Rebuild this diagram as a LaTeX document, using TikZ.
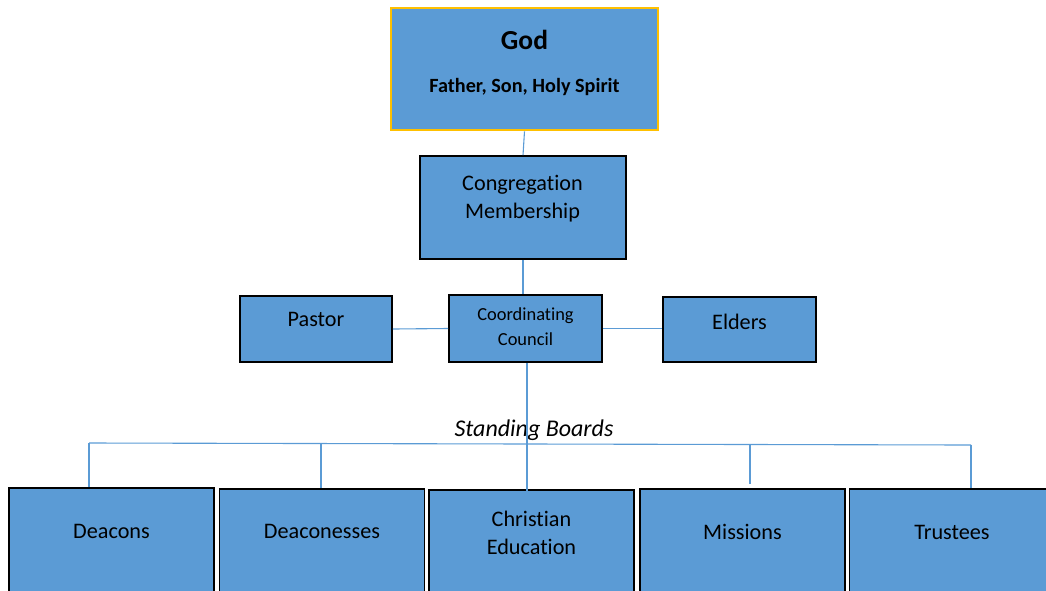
\documentclass[tikz,border=0pt]{standalone}
\usepackage{fontspec}
\setmainfont{Carlito}[Ligatures={NoCommon}]
\usetikzlibrary{positioning}
\definecolor{boxblue}{HTML}{5B9BD5}
\definecolor{godgold}{HTML}{FFC000}
\definecolor{linkblue}{HTML}{5B9BD5}

\begin{document}
\begin{tikzpicture}[x=1pt, y=-1pt,
    box/.style={draw=black, line width=1.6pt, fill=boxblue, inner sep=0pt},
    board/.style={box, minimum width=205pt, minimum height=112pt},
    link/.style={draw=linkblue, line width=1.1pt},
    txt/.style={font=\fontsize{22.2}{28}\selectfont, align=center, inner sep=0pt},
    smalltxt/.style={font=\fontsize{18.4}{25}\selectfont, align=center, inner sep=0pt}]
    \useasboundingbox (0,0) rectangle (1046,590);
    \clip (0,0) rectangle (1046,590);

    % Boxes
    \node[box, draw=godgold, line width=2.6pt, minimum width=267pt, minimum height=122pt] (god) at (524.5,69) {};
    \node[box, minimum width=206pt, minimum height=103pt] (congregation) at (523,207.5) {};
    \node[box, minimum width=152pt, minimum height=66pt] (pastor) at (316,329) {};
    \node[box, minimum width=153pt, minimum height=67pt] (council) at (525.5,328.5) {};
    \node[box, minimum width=153pt, minimum height=65pt] (elders) at (739.5,329.5) {};
    \node[board] (deacons) at (111.5,544) {};
    \node[board] (deaconesses) at (322,545) {};
    \node[board] (christian) at (531.5,546) {};
    \node[board] (missions) at (742.5,545) {};
    \node[board] (trustees) at (952,545) {};

    % Texts
    \node[txt, font=\fontsize{27.5}{30}\selectfont\bfseries] (godT) at (524.5,40) {God};
    \node[txt, font=\fontsize{20.2}{22}\selectfont\bfseries] (godS) at (524.5,87) {Father, Son, Holy Spirit};
    \node[txt] (congregationT) at (522.5,199) {Congregation\\Membership};
    \node[txt] (pastorT) at (316,319) {Pastor};
    \node[smalltxt] (councilT) at (525.5,327) {Coordinating\\Council};
    \node[txt] (eldersT) at (739.5,322) {Elders};
    \node[txt, font=\fontsize{24}{28}\selectfont\itshape] (boardsT) at (534,430) {Standing Boards};
    \node[txt] (deaconsT) at (111.5,531) {Deacons};
    \node[txt] (deaconessesT) at (322,531) {Deaconesses};
    \node[txt] (christianT) at (531.5,533) {Christian\\Education};
    \node[txt] (missionsT) at (742.5,532) {Missions};
    \node[txt] (trusteesT) at (952,532) {Trustees};

    % Links
    \draw[link] (god.south) -- (congregation.north);
    \draw[link] (congregation.south) -- (congregation.south |- council.north);
    \draw[link] (pastor.east) -- (council.west);
    \draw[link] (council.east) -- (council.east -| elders.west);
    \draw[link] ([xshift=1.5pt]council.south) -- ([xshift=1.5pt,yshift=-2pt]council.south |- christian.north);

    % Bus to the standing boards
    \coordinate (busL) at (89,443);
    \coordinate (busR) at (971,445);
    \coordinate (busB) at (321,443);
    \coordinate (busD) at (750,444.5);
    \draw[link] (busL) -- (busR);
    \draw[link] (busL) -- (busL |- deacons.north);
    \draw[link] (busB) -- (busB |- deaconesses.north);
    \draw[link] (busD) -- ([yshift=4pt]busD |- missions.north);
    \draw[link] (busR) -- (busR |- trustees.north);
\end{tikzpicture}
\end{document}
